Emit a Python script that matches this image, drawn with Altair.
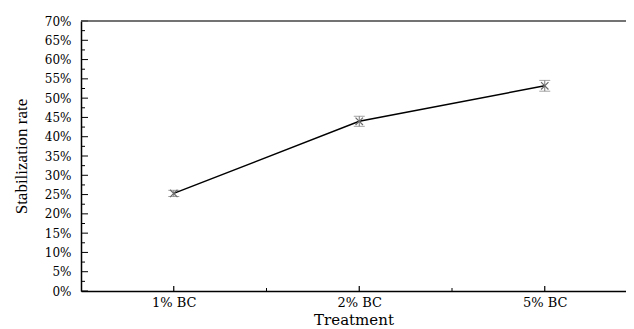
import altair as alt
import pandas as pd

# ---- data ----
treatments = ["1% BC", "2% BC", "5% BC"]
positions = [1, 2, 3]
rates = [25.3, 44.0, 53.2]          # Stabilization rate (%)
errors = [0.8, 1.3, 1.4]            # error bar half-widths (%)

y_major = [0, 5, 10, 15, 20, 25, 30, 35, 40, 45, 50, 55, 60, 65, 70]
y_minor = [2.5, 7.5, 12.5, 17.5, 22.5, 27.5, 32.5, 37.5, 42.5, 47.5, 52.5, 57.5, 62.5, 67.5]
x_major = [1, 2, 3]
x_minor = [1.5, 2.5]

df = pd.DataFrame({
    "pos": positions,
    "label": treatments,
    "rate": rates,
    "lo": [r - e for r, e in zip(rates, errors)],
    "hi": [r + e for r, e in zip(rates, errors)],
})

PLOT_W, PLOT_H = 545, 270
FONT = "DejaVu Serif"

xscale = alt.Scale(domain=[0.5, 3.438], nice=False, zero=False, padding=0)
yscale = alt.Scale(domain=[0, 70], nice=False, zero=True, padding=0)

label_expr = "datum.value == 1 ? '1% BC' : datum.value == 2 ? '2% BC' : '5% BC'"

x_axis = alt.Axis(values=x_major, labelExpr=label_expr, ticks=False, grid=False,
                  domainColor="black", domainWidth=1.5, labelFont=FONT, labelFontSize=13,
                  labelColor="black", labelPadding=5, title="Treatment",
                  titleFont=FONT, titleFontSize=15, titleFontWeight="normal",
                  titleColor="black", titlePadding=3)
y_axis = alt.Axis(values=y_major, labelExpr="datum.value + '%'", ticks=False, grid=False,
                  domainColor="black", domainWidth=1.5, labelFont=FONT, labelFontSize=12,
                  labelColor="black", labelPadding=10, title="Stabilization rate",
                  titleFont="Liberation Serif", titleFontSize=17, titleFontWeight="normal",
                  titleColor="black", titlePadding=14)


def xq(field):
    return alt.X(field, scale=xscale, axis=x_axis, title="Treatment")


def yq(field):
    return alt.Y(field, scale=yscale, axis=y_axis, title="Stabilization rate")


base = alt.Chart(df)

line = base.mark_line(color="black", strokeWidth=1.5).encode(x=xq("pos:Q"), y=yq("rate:Q"))

err = base.mark_rule(color="#7a7a7a", strokeWidth=1).encode(
    x=xq("pos:Q"), y=yq("lo:Q"), y2="hi:Q")

cap_lo = base.mark_tick(orient="horizontal", color="#7a7a7a", size=11, thickness=1).encode(
    x=xq("pos:Q"), y=yq("lo:Q"))
cap_hi = base.mark_tick(orient="horizontal", color="#7a7a7a", size=11, thickness=1).encode(
    x=xq("pos:Q"), y=yq("hi:Q"))

marker = base.mark_point(
    shape="M-1,-1L1,1M-1,1L1,-1", filled=False, color="#6a6a6a", size=55, strokeWidth=1.2,
    opacity=1).encode(x=xq("pos:Q"), y=yq("rate:Q"))

# inward ticks on the y axis
ymaj = alt.Chart(pd.DataFrame({"v": y_major})).mark_rule(color="black", strokeWidth=1).encode(
    y=yq("v:Q"), x=alt.value(0), x2=alt.value(7))
ymin = alt.Chart(pd.DataFrame({"v": y_minor})).mark_rule(color="black", strokeWidth=1).encode(
    y=yq("v:Q"), x=alt.value(0), x2=alt.value(4))

# inward ticks on the x axis
xmaj = alt.Chart(pd.DataFrame({"v": x_major})).mark_rule(color="black", strokeWidth=1.2).encode(
    x=xq("v:Q"), y=alt.value(PLOT_H), y2=alt.value(PLOT_H - 5))
xmin = alt.Chart(pd.DataFrame({"v": x_minor})).mark_rule(color="black", strokeWidth=1).encode(
    x=xq("v:Q"), y=alt.value(PLOT_H), y2=alt.value(PLOT_H - 3))

# top frame line
top = alt.Chart(pd.DataFrame({"v": [70]})).mark_rule(color="#444444", strokeWidth=1.5).encode(
    y=yq("v:Q"))

chart = alt.layer(line, err, cap_lo, cap_hi, marker, ymaj, ymin, xmaj, xmin, top).properties(
    width=PLOT_W, height=PLOT_H,
    autosize=alt.AutoSizeParams(type="none"),
    padding={"left": 73, "top": 13, "right": 0, "bottom": 38},
    background="white",
).configure_view(stroke=None)

chart.save("out.html", embed_options={"renderer": "svg", "actions": False})
